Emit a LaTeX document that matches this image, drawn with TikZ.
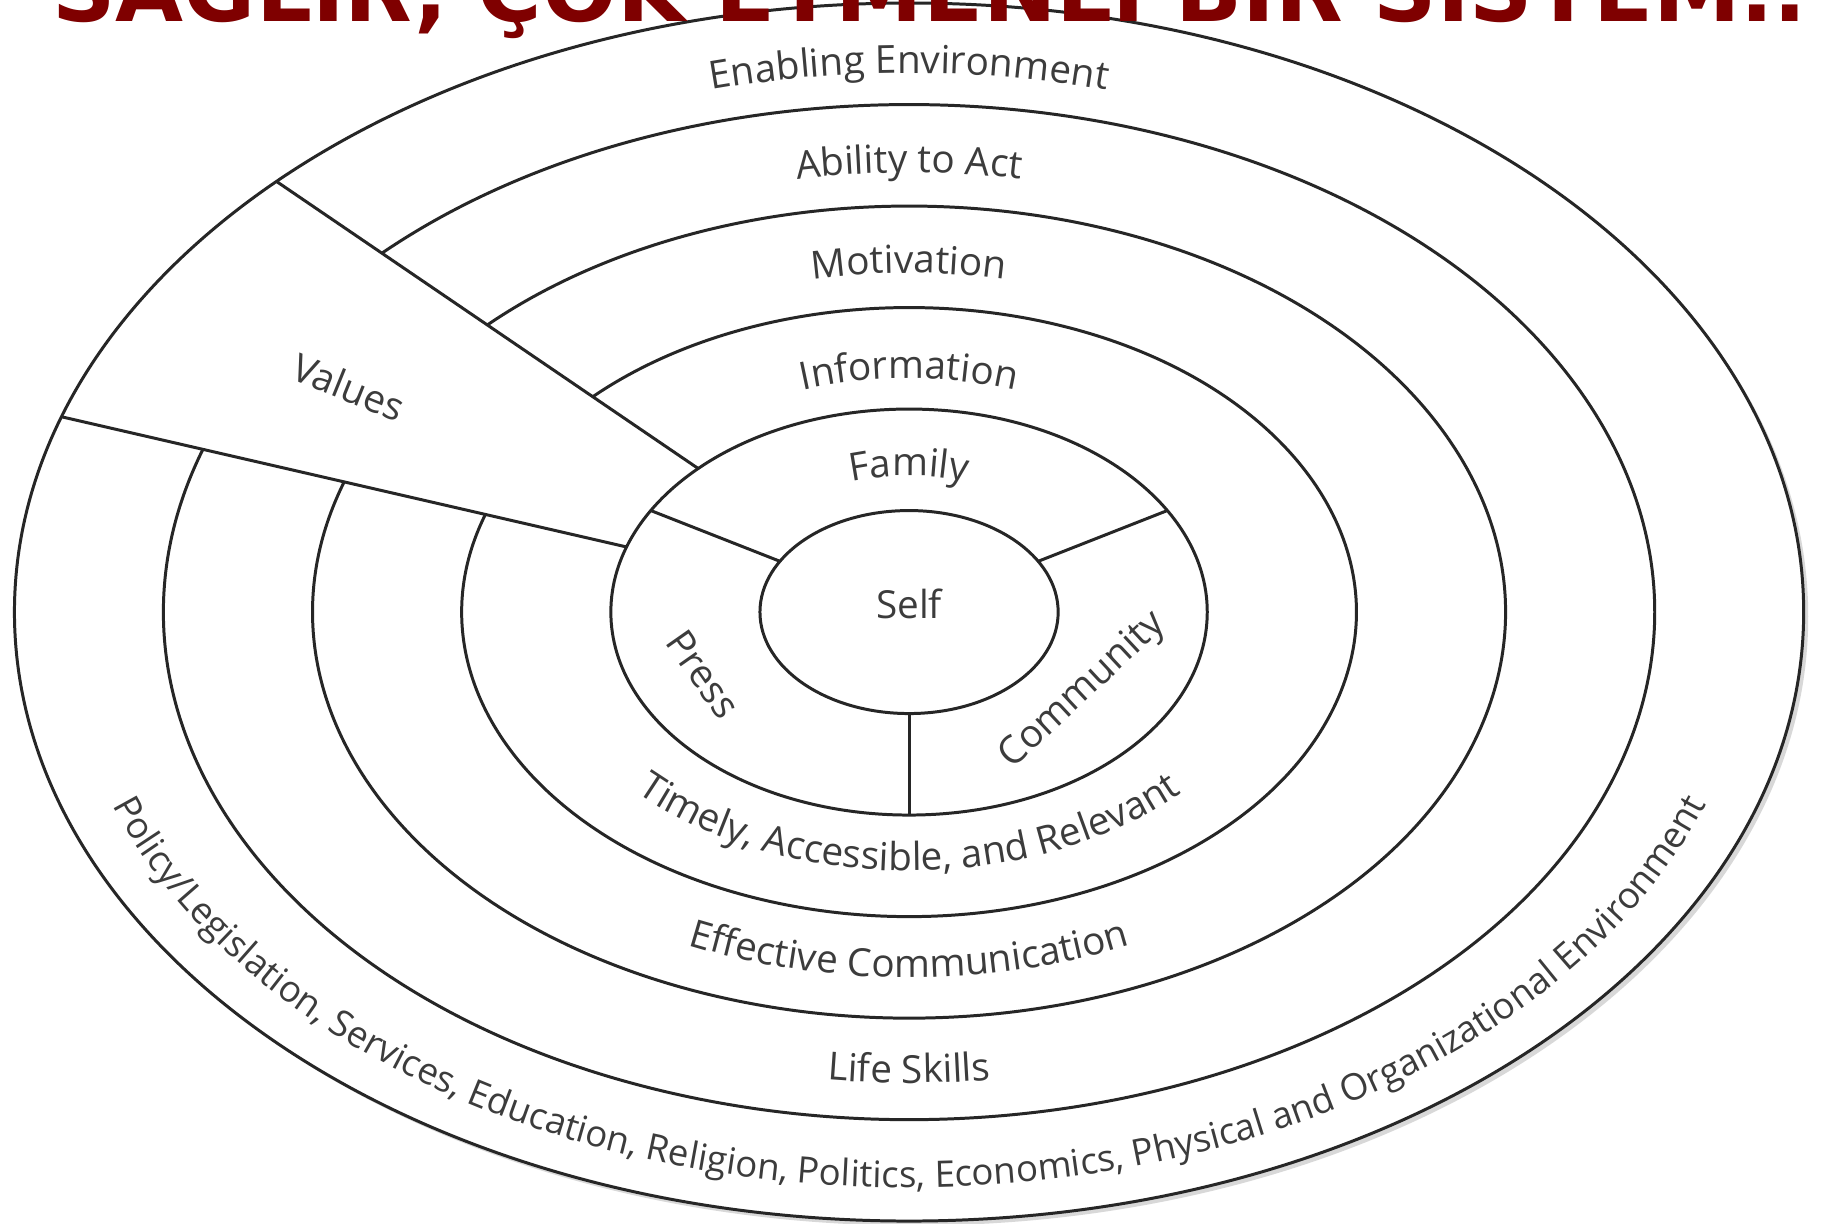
\documentclass[tikz,border=0pt]{standalone}
\usepackage{fontspec}
\setmainfont{Open Sans}
\newfontfamily\titlefont{DejaVu Sans}
\usepackage{tikz}
\usetikzlibrary{shadows}
\usetikzlibrary{decorations.text}
\definecolor{titlered}{HTML}{7F0000}
\definecolor{inkgray}{HTML}{262626}
\definecolor{textgray}{HTML}{3C3C3C}
\newcommand{\labelfont}{\fontsize{11}{13}\selectfont\color{textgray}}
\newcommand{\smalllabelfont}{\fontsize{10.4}{12}\selectfont\color{textgray}}
\tikzstyle{ring}=[draw=inkgray,line width=0.85pt]
\tikzstyle{spoke}=[draw=inkgray,line width=0.85pt]
\tikzstyle{outerring}=[ring,fill=white,drop shadow={shadow xshift=1.3pt,shadow yshift=-1.3pt,opacity=0.3}]
\tikzstyle{ringlabel}=[font=\labelfont,inner sep=0pt]
\tikzstyle{arctext}=[decorate,decoration={text along path,text align=center}]
\tikzstyle{headline}=[font=\titlefont\bfseries\fontsize{25}{30}\selectfont,text=titlered,anchor=base,inner sep=0pt]

\begin{document}
\begin{tikzpicture}[x=14.91mm,y=10.15mm]
    \path[use as bounding box,fill=white] (-6.097,-6.020) rectangle (6.123,6.030);

    % rings
    \draw[outerring] (0,0) circle [radius=6];
    \foreach \k in {1,2}
        \draw[ring] (0,0) circle [radius=\k];
    \foreach \k in {3,4,5}
        \draw[ring] (161.3:\k) arc [start angle=161.3, end angle=495, radius=\k];

    % spokes
    \foreach \ang/\kin/\kout in {135/2/6, 161.3/2/6, 150/1/2, 30/1/2, 270/1/2}
        \draw[spoke] (\ang:\kin) -- (\ang:\kout);

    % upper rings
    \path[arctext,decoration={text={|\labelfont|Enabling Environment}}] (175:5.31) arc [start angle=175, end angle=5, radius=5.31];
    \path[arctext,decoration={text={|\labelfont|Ability to Act}}] (175:4.33) arc [start angle=175, end angle=5, radius=4.33];
    \path[arctext,decoration={text={|\labelfont|Motivation}}] (175:3.34) arc [start angle=175, end angle=5, radius=3.34];
    \path[arctext,decoration={text={|\labelfont|Information}}] (175:2.30) arc [start angle=175, end angle=5, radius=2.30];
    \path[arctext,decoration={text={|\labelfont|Family}}] (175:1.34) arc [start angle=175, end angle=5, radius=1.34];

    % lower rings
    \path[arctext,decoration={text={|\labelfont|Timely, Accessible, and Relevant}}] (185:2.55) arc [start angle=185, end angle=355, radius=2.55];
    \path[arctext,decoration={text={|\labelfont|Effective Communication}}] (185:3.6) arc [start angle=185, end angle=355, radius=3.6];
    \path[arctext,decoration={text={|\labelfont|Life Skills}}] (185:4.64) arc [start angle=185, end angle=355, radius=4.64];
    \path[arctext,decoration={text={|\smalllabelfont|Policy/Legislation, Services, Education, Religion, Politics, Economics, Physical and Organizational Environment}}] (185:5.67) arc [start angle=185, end angle=355, radius=5.67];

    \node[ringlabel] (self) at (0,0.08) {Self};
    \node[ringlabel,rotate=-22] (values) at (-3.756,2.217) {Values};
    \node[ringlabel,rotate=-55] (press) at (-1.382,-0.611) {Press};
    \node[ringlabel,rotate=43] (community) at (1.167,-0.778) {Community};

    \node[headline] (title) at (0.141,5.823) {SAĞLIR, ÇOK ETMENLİ BİR SİSTEM..};
\end{tikzpicture}
\end{document}
